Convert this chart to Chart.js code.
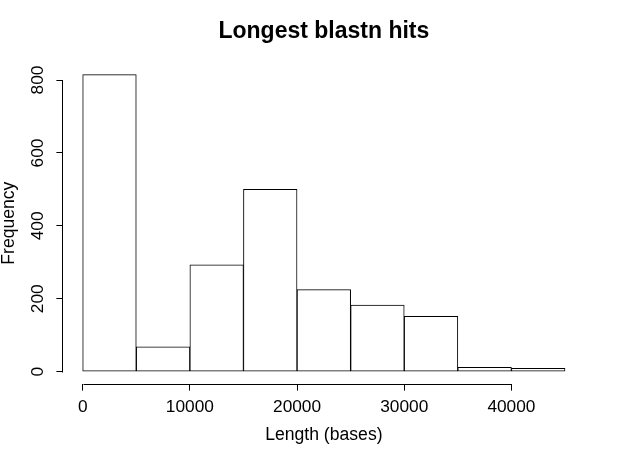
<!DOCTYPE html>
<html>
<head>
<meta charset="utf-8">
<script src="https://cdn.jsdelivr.net/npm/chart.js@4.4.1/dist/chart.umd.min.js"></script>
<style>
  html, body { margin: 0; padding: 0; background: #ffffff; }
  #wrap { width: 617px; height: 462px; position: relative; }
</style>
</head>
<body>
<div id="wrap"><canvas id="c" width="617" height="462"></canvas></div>
<script>
// ---- Data ----
const binEdges = [0, 5000, 10000, 15000, 20000, 25000, 30000, 35000, 40000, 45000];
const frequencies = [815, 68, 293, 500, 225, 183, 152, 12, 9];
const xTicks = [0, 10000, 20000, 30000, 40000];
const yTicks = [0, 200, 400, 600, 800];
const titleText = 'Longest blastn hits';
const xTitle = 'Length (bases)';
const yTitle = 'Frequency';

const FONT = '"Liberation Sans", Arial, Helvetica, sans-serif';

const points = frequencies.map((f, i) => ({ x: (binEdges[i] + binEdges[i + 1]) / 2, y: f }));

// R-style axis lines: only from first to last tick
const axisLines = {
  id: 'axisLines',
  afterDraw(chart) {
    const { ctx, chartArea, scales } = chart;
    ctx.save();
    ctx.strokeStyle = '#000';
    ctx.lineWidth = 1;
    ctx.beginPath();
    const yb = Math.round(chartArea.bottom) + 0.5;
    ctx.moveTo(Math.round(scales.x.getPixelForValue(xTicks[0])) + 0.5, yb);
    ctx.lineTo(Math.round(scales.x.getPixelForValue(xTicks[xTicks.length - 1])) + 0.5, yb);
    const xl = Math.round(chartArea.left) - 0.5;
    ctx.moveTo(xl, Math.round(scales.y.getPixelForValue(yTicks[0])) + 0.5);
    ctx.lineTo(xl, Math.round(scales.y.getPixelForValue(yTicks[yTicks.length - 1])) + 0.5);
    ctx.stroke();
    ctx.restore();
  }
};

new Chart(document.getElementById('c'), {
  type: 'bar',
  data: {
    datasets: [{
      data: points,
      backgroundColor: '#ffffff',
      borderColor: '#000000',
      borderWidth: 1,
      borderSkipped: false,
      barPercentage: 1,
      categoryPercentage: 1
    }]
  },
  options: {
    responsive: false,
    animation: false,
    devicePixelRatio: 1,
    layout: { padding: { left: 0, right: 32.7, top: 0, bottom: 0 } },
    plugins: {
      legend: { display: false },
      tooltip: { enabled: false },
      title: {
        display: true,
        fullSize: false,
        text: titleText,
        color: '#000',
        font: { family: FONT, size: 23, weight: 'bold', lineHeight: 1.2 },
        padding: { top: 18.1, bottom: 17.0 }
      }
    },
    scales: {
      x: {
        type: 'linear',
        min: -1800,
        max: 46800,
        offset: false,
        afterBuildTicks(scale) { scale.ticks = xTicks.map(v => ({ value: v })); },
        afterFit(scale) { scale.height = 78.4; },
        border: { display: false },
        grid: { display: true, offset: false, drawOnChartArea: false, drawTicks: true, tickLength: 7, color: '#000', lineWidth: 1 },
        ticks: {
          color: '#000',
          font: { family: FONT, size: 17.3 },
          padding: 6,
          maxRotation: 0,
          minRotation: 0,
          autoSkip: false,
          callback: v => String(v)
        },
        title: {
          display: true,
          text: xTitle,
          color: '#000',
          font: { family: FONT, size: 17.6, lineHeight: 1.2 },
          padding: { top: 0, bottom: 16.4 }
        }
      },
      y: {
        type: 'linear',
        min: -32.6,
        max: 847.6,
        afterBuildTicks(scale) { scale.ticks = yTicks.map(v => ({ value: v })); },
        afterFit(scale) { scale.width = 63.4; },
        border: { display: false },
        grid: { display: true, offset: false, drawOnChartArea: false, drawTicks: true, tickLength: 7, color: '#000', lineWidth: 1 },
        ticks: {
          color: '#000',
          font: { family: FONT, size: 17.3 },
          padding: 4,
          minRotation: 90,
          maxRotation: 90,
          crossAlign: 'center',
          autoSkip: false,
          callback: v => String(v)
        },
        title: {
          display: true,
          text: yTitle,
          color: '#000',
          font: { family: FONT, size: 17.6, lineHeight: 1.0 },
          padding: { top: 0, bottom: 0 }
        }
      }
    }
  },
  plugins: [axisLines]
});
</script>
</body>
</html>
